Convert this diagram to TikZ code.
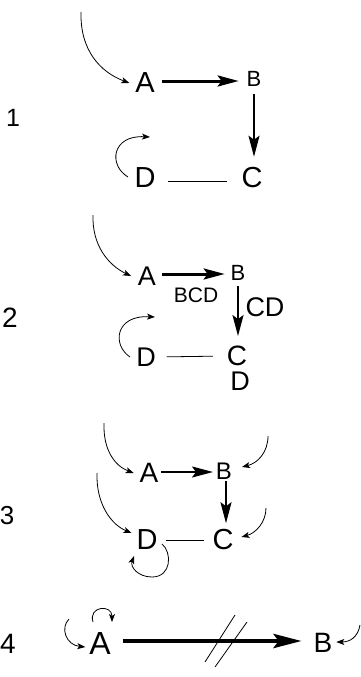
\documentclass[tikz,border=0pt]{standalone}
\usepackage{fontspec}
\setmainfont{Liberation Sans}
\usetikzlibrary{arrows.meta}
\tikzset{
  lt/.style={inner sep=0pt, outer sep=0pt, font=\fontsize{#1}{#1}\selectfont},
  thinarr/.style={line width=0.8pt, -{Stealth[length=8pt,width=6pt,inset=2pt]}},
  midarr/.style={line width=#1, -{Stealth[length=21pt,width=11pt,inset=4pt]}},
  fatarr/.style={line width=4.5pt, -{Stealth[length=28pt,width=14pt,inset=5pt]}},
  plain/.style={line width=0.8pt},
}
\begin{document}
\begin{tikzpicture}[x=1pt,y=-1pt]
\useasboundingbox (0,0) rectangle (361,677);
% ---------- panel 1 ----------
\node[lt=25] (n1) at (13,118) {1};
\node[lt=29] (A1) at (145,83) {A};
\node[lt=22] (B1) at (254,79) {B};
\node[lt=29] (C1) at (252,178) {C};
\node[lt=29] (D1) at (145,178) {D};
\coordinate (s1) at (81,12);
\coordinate (l1) at (128,177);
\draw[midarr=3pt, shorten <=7pt, shorten >=8pt] ([yshift=2pt]A1.east) -- ([yshift=-2pt]B1.west);
\draw[midarr=2pt, shorten <=7pt, shorten >=11pt] (B1.south) -- (B1.south |- C1.north);
\draw[plain, shorten <=13pt, shorten >=15pt] ([yshift=-3pt]D1.east) -- ([yshift=-3pt]C1.west);
\draw[thinarr] (s1) .. controls (80,50) and (100,72) .. ([xshift=-6pt]A1.west);
\draw[thinarr] (l1) .. controls (108,165) and (112,135) .. (150,137);
% ---------- panel 2 ----------
\node[lt=28] (n2) at (10,318) {2};
\node[lt=27] (A2) at (147,276) {A};
\node[lt=22] (B2) at (238,273) {B};
\node[lt=28] (C2) at (237,356) {C};
\node[lt=27] (E2) at (240,381) {D};
\node[lt=27] (D2) at (146,357) {D};
\node[lt=21] (bcd) at (196,295) {BCD};
\node[lt=27] (cd) at (265,307) {CD};
\coordinate (s2) at (93,215);
\coordinate (l2) at (130,357);
\draw[midarr=3pt, shorten <=6pt, shorten >=6pt] ([yshift=2pt]A2.east) -- ([yshift=-1pt]B2.west);
\draw[midarr=2pt, shorten <=5pt, shorten >=10pt] (B2.south) -- (B2.south |- C2.north);
\draw[plain, shorten <=11pt, shorten >=14pt] (D2.east) -- (C2.west);
\draw[thinarr] (s2) .. controls (92,245) and (108,265) .. ([xshift=-7pt]A2.west);
\draw[thinarr] (l2) .. controls (112,345) and (115,315) .. (155,317);
% ---------- panel 3 ----------
\node[lt=26] (n3) at (7,516) {3};
\node[lt=28] (A3) at (149,473) {A};
\node[lt=24] (B3) at (224,471) {B};
\node[lt=29] (C3) at (223,540) {C};
\node[lt=29] (D3) at (147,540) {D};
\coordinate (sa3) at (104,423);
\coordinate (sd3) at (97,473);
\coordinate (sb3) at (268,436);
\coordinate (sc3) at (266,508);
\coordinate (l3) at (162,544);
\draw[midarr=2pt, shorten <=3pt, shorten >=3pt] ([yshift=1pt]A3.east) -- ([yshift=-1pt]B3.west);
\draw[midarr=2pt, shorten <=1.5pt, shorten >=6.5pt] ([xshift=2pt]B3.south) -- ([xshift=2pt]B3.south |- C3.north);
\draw[plain, shorten <=8.5pt, shorten >=8.5pt] (D3.east) -- (C3.west);
\draw[thinarr] (sa3) .. controls (103,450) and (115,466) .. ([xshift=-6pt]A3.west);
\draw[thinarr] (sd3) .. controls (96,505) and (112,525) .. ([xshift=-5pt,yshift=7pt]D3.west);
\draw[thinarr] (sb3) .. controls (268,452) and (258,463) .. ([xshift=10pt,yshift=4pt]B3.east);
\draw[thinarr] (sc3) .. controls (266,522) and (256,533) .. ([xshift=8pt,yshift=3pt]C3.east);
\draw[thinarr] (l3) .. controls (172,552) and (172,577) .. (152,577) .. controls (138,577) and (130,567) .. (134,556);
% ---------- panel 4 ----------
\node[lt=28] (n4) at (8,644) {4};
\node[lt=32] (A4) at (100,643) {A};
\node[lt=28] (B4) at (323,643) {B};
\coordinate (la4) at (93,622);
\coordinate (lb4) at (69,619);
\coordinate (rb4) at (360,625);
\coordinate (h1a) at (205,662);
\coordinate (h1b) at (235,615);
\coordinate (h2a) at (215,667);
\coordinate (h2b) at (247,622);
\draw[fatarr, shorten <=12pt, shorten >=12pt] ([yshift=2pt]A4.east) -- ([yshift=2pt]B4.west);
\draw[plain] (h1a) -- (h1b);
\draw[plain] (h2a) -- (h2b);
\draw[thinarr] (la4) .. controls (88,606) and (112,604) .. (112,622);
\draw[thinarr] (lb4) .. controls (60,628) and (66,645) .. ([xshift=-4pt,yshift=-4pt]A4.west);
\draw[thinarr] (rb4) .. controls (358,637) and (350,642) .. ([xshift=4pt,yshift=1pt]B4.east);
\end{tikzpicture}
\end{document}
